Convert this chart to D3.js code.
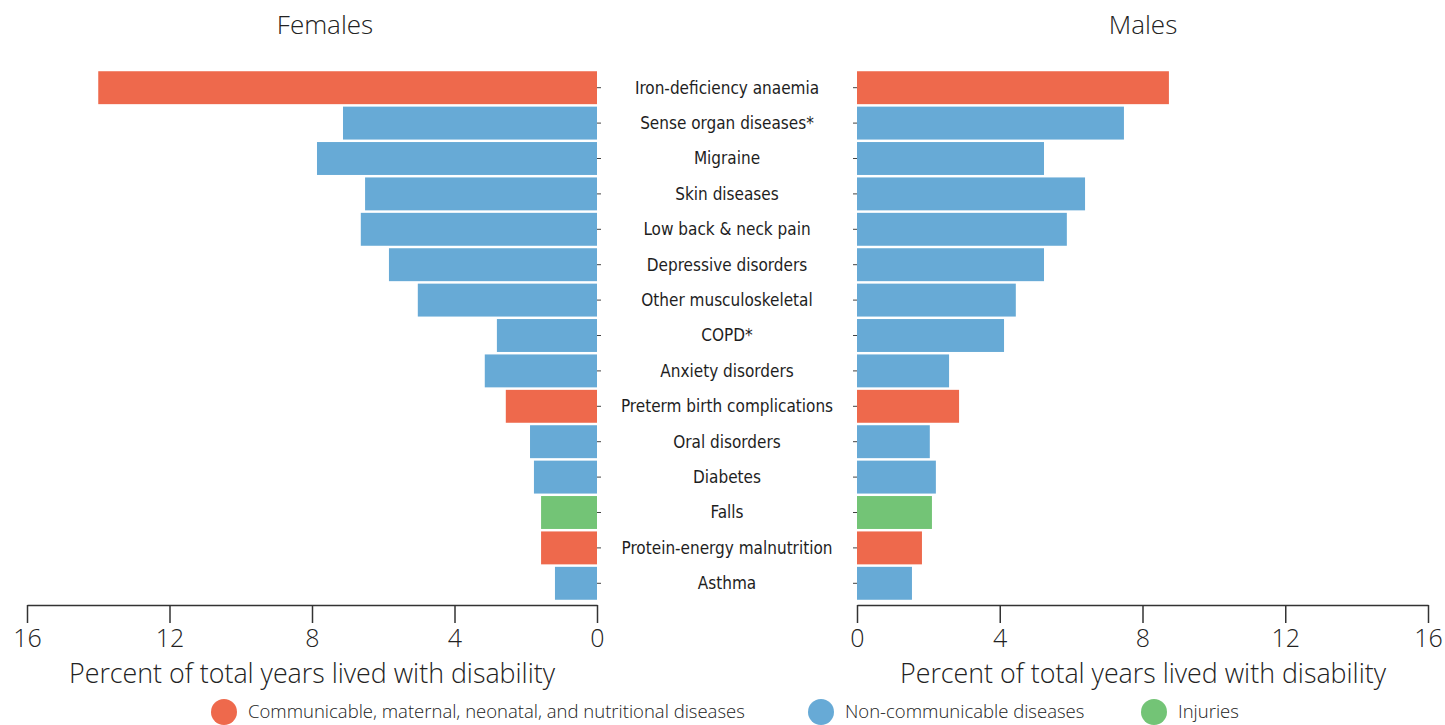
<!DOCTYPE html>
<html>
<head>
<meta charset="utf-8">
<script src="https://cdn.jsdelivr.net/npm/d3@7"></script>
<style>
  body { margin: 0; background: #fff; }
  .cause { font-family: "Liberation Sans Narrow", "DejaVu Sans Condensed", sans-serif; font-size: 17px; fill: #1e1e1e; }
  .light { font-family: "Open Sans", Lato, sans-serif; font-weight: 300; fill: #222; }
</style>
</head>
<body>
<div id="chart"></div>
<script>
// causes, top to bottom
const causes = ["Iron-deficiency anaemia", "Sense organ diseases*", "Migraine", "Skin diseases",
  "Low back & neck pain", "Depressive disorders", "Other musculoskeletal", "COPD*",
  "Anxiety disorders", "Preterm birth complications", "Oral disorders", "Diabetes",
  "Falls", "Protein-energy malnutrition", "Asthma"];
const groups = ["cmnn", "ncd", "ncd", "ncd", "ncd", "ncd", "ncd", "ncd",
  "ncd", "cmnn", "ncd", "ncd", "inj", "cmnn", "ncd"];
const females = [14.0, 7.13, 7.86, 6.51, 6.63, 5.84, 5.03, 2.81, 3.15, 2.56, 1.88, 1.77, 1.57, 1.57, 1.18];
const males = [8.74, 7.48, 5.24, 6.39, 5.88, 5.24, 4.45, 4.12, 2.58, 2.86, 2.04, 2.21, 2.10, 1.82, 1.54];
const ticks = [0, 4, 8, 12, 16];
const legendKeys = ["cmnn", "ncd", "inj"];
const legendLabels = ["Communicable, maternal, neonatal, and nutritional diseases", "Non-communicable diseases", "Injuries"];

const width = 1445, height = 725;
const color = d3.scaleOrdinal().domain(legendKeys).range(["#ee694c", "#67aad6", "#73c476"]);

const svg = d3.select("#chart").append("svg")
  .attr("width", width).attr("height", height);

const y = d3.scaleBand().domain(causes).range([70, 601])
  .paddingInner(0.07).paddingOuter(0.035);

const xLeft = d3.scaleLinear().domain([0, 16]).range([597, 27]);
const xRight = d3.scaleLinear().domain([0, 16]).range([857, 1428]);

const rows = causes.map((c, i) => ({cause: c, group: groups[i], f: females[i], m: males[i]}));

// bars
svg.append("g").selectAll("rect").data(rows).enter().append("rect")
  .attr("x", d => xLeft(d.f))
  .attr("y", d => y(d.cause))
  .attr("width", d => xLeft(0) - xLeft(d.f))
  .attr("height", y.bandwidth())
  .attr("fill", d => color(d.group));

svg.append("g").selectAll("rect").data(rows).enter().append("rect")
  .attr("x", xRight(0))
  .attr("y", d => y(d.cause))
  .attr("width", d => xRight(d.m) - xRight(0))
  .attr("height", y.bandwidth())
  .attr("fill", d => color(d.group));

// small y ticks on both sides of the labels
const yl = svg.append("g").attr("transform", `translate(${xLeft(0)},0)`)
  .call(d3.axisRight(y).tickSize(4).tickFormat(""));
const yr = svg.append("g").attr("transform", `translate(${xRight(0)},0)`)
  .call(d3.axisLeft(y).tickSize(4).tickFormat(""));
[yl, yr].forEach(g => {
  g.select(".domain").remove();
  g.selectAll("line").attr("stroke", "#444");
});

// cause labels
svg.append("g").selectAll("text").data(causes).enter().append("text")
  .attr("class", "cause")
  .attr("x", 727)
  .attr("y", d => y(d) + y.bandwidth() / 2)
  .attr("dy", "0.35em")
  .attr("text-anchor", "middle")
  .text(d => d);

// x axes
function xAxis(scale) {
  const g = svg.append("g").attr("transform", "translate(0,605)")
    .call(d3.axisBottom(scale).tickValues(ticks).tickSize(18).tickSizeOuter(0));
  g.select(".domain").attr("stroke", "#333").attr("stroke-width", 1.5);
  g.selectAll(".tick line").attr("stroke", "#333").attr("stroke-width", 1.5);
  g.selectAll(".tick text").attr("class", "light").attr("font-size", 25)
    .attr("y", 24).attr("dy", "0.71em");
  g.attr("font-family", null).attr("font-size", null);
  return g;
}
xAxis(xLeft);
xAxis(xRight);

// axis titles
[[312, "Percent of total years lived with disability"], [1143, "Percent of total years lived with disability"]]
  .forEach(([x, t]) => {
    svg.append("text").attr("class", "light").attr("x", x).attr("y", 683)
      .attr("text-anchor", "middle").attr("font-size", 26.8).text(t);
  });

// panel titles
svg.append("text").attr("class", "light").attr("x", 325).attr("y", 34)
  .attr("text-anchor", "middle").attr("font-size", 26).text("Females");
svg.append("text").attr("class", "light").attr("x", 1143).attr("y", 34)
  .attr("text-anchor", "middle").attr("font-size", 26).text("Males");

// legend
const legendX = [224, 821, 1154];
const legend = svg.append("g").selectAll("g").data(legendKeys).enter().append("g")
  .attr("transform", (d, i) => `translate(${legendX[i]},712)`);
legend.append("circle").attr("r", 13).attr("fill", d => color(d));
legend.append("text").attr("class", "light").attr("x", 24).attr("dy", "0.35em")
  .attr("font-size", 18.5).attr("font-weight", 400)
  .text((d, i) => legendLabels[i]);
</script>
</body>
</html>
